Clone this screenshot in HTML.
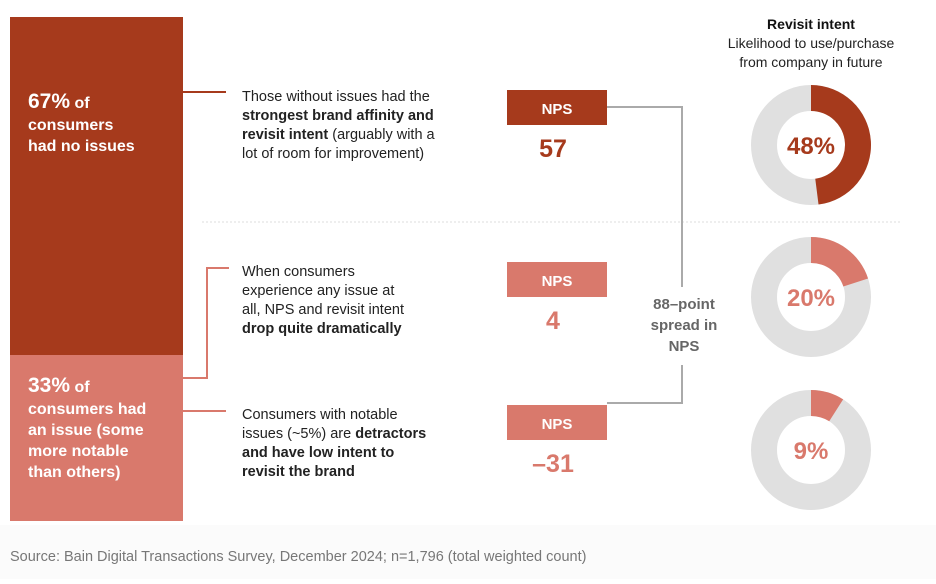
<!DOCTYPE html>
<html><head><meta charset="utf-8"><style>
body{margin:0;background:#fff;width:936px;height:579px;overflow:hidden;font-family:"Liberation Sans",sans-serif}
svg text{font-family:"Liberation Sans",sans-serif}
</style></head><body>
<svg id="c" width="936" height="579">
<rect x="0" y="525" width="936" height="54" fill="#fbfbfb"/>
<rect x="10" y="17" width="173" height="338" fill="#a63a1c"/>
<rect x="10" y="355" width="173" height="166" fill="#d9796c"/>
<g fill="#fff" font-weight="bold" font-size="16">
<text x="28" y="108"><tspan font-size="21">67%</tspan> of</text>
<text x="28" y="130">consumers</text><text x="28" y="151">had no issues</text></g>
<g fill="#fff" font-weight="bold" font-size="16">
<text x="28" y="392"><tspan font-size="21">33%</tspan> of</text>
<text x="28" y="414">consumers had</text><text x="28" y="435">an issue (some</text>
<text x="28" y="456">more notable</text><text x="28" y="477">than others)</text></g>
<g fill="none" stroke-width="2">
<path d="M183 92H226" stroke="#a63a1c"/>
<path d="M183 378H207V268H229" stroke="#d9796c"/>
<path d="M183 411H226" stroke="#d9796c"/></g>
<g font-size="14.5" fill="#222">
<text x="242" y="101">Those without issues had the</text>
<text x="242" y="120" font-weight="bold">strongest brand affinity and</text>
<text x="242" y="139"><tspan font-weight="bold">revisit intent</tspan> (arguably with a</text>
<text x="242" y="158">lot of room for improvement)</text>
<text x="242" y="276">When consumers</text>
<text x="242" y="295">experience any issue at</text>
<text x="242" y="314">all, NPS and revisit intent</text>
<text x="242" y="333" font-weight="bold">drop quite dramatically</text>
<text x="242" y="419">Consumers with notable</text>
<text x="242" y="438">issues (~5%) are <tspan font-weight="bold">detractors</tspan></text>
<text x="242" y="457" font-weight="bold">and have low intent to</text>
<text x="242" y="476" font-weight="bold">revisit the brand</text></g>
<line x1="202" y1="222" x2="900" y2="222" stroke="#ddd" stroke-dasharray="2,2"/>
<path d="M607 107H682V287M682 365V403H607" fill="none" stroke="#aaa" stroke-width="2"/>
<g font-size="15" font-weight="bold" fill="#666" text-anchor="middle">
<text x="684" y="309">88–point</text><text x="684" y="330">spread in</text><text x="684" y="351">NPS</text></g>
<g text-anchor="middle">
<text x="811" y="29" font-size="14" font-weight="bold" fill="#111">Revisit intent</text>
<text x="811" y="48" font-size="14" fill="#222">Likelihood to use/purchase</text>
<text x="811" y="67" font-size="14" fill="#222">from company in future</text></g>
<g id="marks"></g>
<text x="10" y="561" font-size="14.5" fill="#777">Source: Bain Digital Transactions Survey, December 2024; n=1,796 (total weighted count)</text>
</svg>
<script>
const segments=["no-issues","any-issue","notable-issue"];
const npsValues=[57,4,-31];
const npsLabels=["57","4","–31"];
const revisitValues=[48,20,9];
const revisitLabels=["48%","20%","9%"];
const colors=["#a63a1c","#d9796c","#d9796c"];
const ns="http://www.w3.org/2000/svg";
const g=document.getElementById("marks");
const rowY=i=>[90,262,405][i];
const donutY=i=>[145,297,450][i];
function mk(t,a){const e=document.createElementNS(ns,t);for(const k in a)e.setAttribute(k,a[k]);g.appendChild(e);return e;}
segments.forEach((s,i)=>{
 const y=rowY(i);
 const b=mk("rect",{x:507,y:y,width:100,height:35,fill:colors[i]});
 
 
 const t=mk("text",{x:557,y:y+24,"text-anchor":"middle","font-size":15,"font-weight":"bold",fill:"#fff"});t.textContent="NPS";
 
 
 const v=mk("text",{x:553,y:y+67,"text-anchor":"middle","font-size":25,"font-weight":"bold",fill:colors[i]});v.textContent=npsLabels[i]||String(npsValues[i]);
 
 
 const cx=811,cy=donutY(i),R=60,r=34;
 const bg=mk("circle",{cx:cx,cy:cy,r:(R+r)/2,fill:"none",stroke:"#e0e0e0","stroke-width":R-r});
 
 
 const a=revisitValues[i]/100*2*Math.PI;
 const p=(rad,ang)=>[cx+rad*Math.sin(ang),cy-rad*Math.cos(ang)];
 const [x1,y1]=p(R,0),[x2,y2]=p(R,a),[x3,y3]=p(r,a),[x4,y4]=p(r,0);
 const lg=a>Math.PI?1:0;
 const arc=mk("path",{d:`M${x1} ${y1}A${R} ${R} 0 ${lg} 1 ${x2} ${y2}L${x3} ${y3}A${r} ${r} 0 ${lg} 0 ${x4} ${y4}Z`,fill:colors[i]});
 
 
 const dl=mk("text",{x:cx,y:cy+9,"text-anchor":"middle","font-size":24,"font-weight":"bold",fill:colors[i]});dl.textContent=revisitLabels[i];
 
 
});
</script>
</body></html>
